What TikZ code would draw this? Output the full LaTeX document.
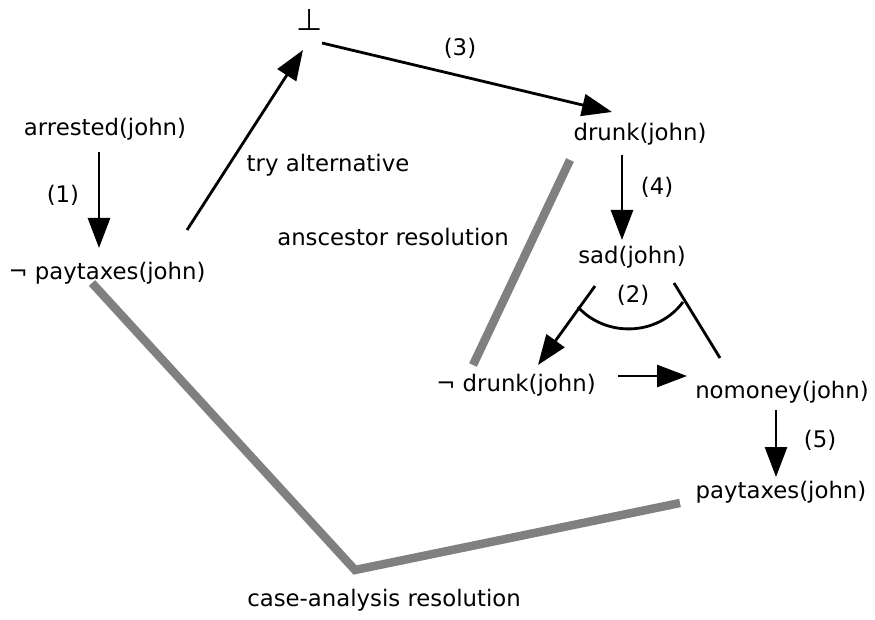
\documentclass[tikz,border=0pt]{standalone}
\usepackage{fontspec}
\setmainfont{DejaVu Sans}
\usetikzlibrary{arrows.meta,calc}
\begin{document}
\begin{tikzpicture}[x=1pt,y=-1pt,
  every node/.style={font=\fontsize{22.8}{27}\selectfont, inner sep=0pt},
  arr/.style={line width=2.8pt, -{Triangle[length=30pt,width=22pt]}},
  plain/.style={line width=2.8pt},
  grayline/.style={line width=8.5pt, draw={rgb,255:red,128;green,128;blue,128}, line join=miter}]
\useasboundingbox (0,0) rectangle (875,620);
\node[font=\fontsize{30}{34}\selectfont] (bot) at (310,20) {⊥};
\node (arrested) at (105,129) {arrested(john)};
\node (npay) at (107,273) {¬ paytaxes(john)};
\node (drunk) at (640,134) {drunk(john)};
\node (sad) at (632,257) {sad(john)};
\node (ndrunk) at (516,385) {¬ drunk(john)};
\node (nomoney) at (782,392) {nomoney(john)};
\node (pay) at (781,492) {paytaxes(john)};
\node (ltry) at (328,165) {try alternative};
\node (lanc) at (393,237) {anscestor resolution};
\node (lcase) at (384,600) {case-analysis resolution};
\node (l1) at (63,195) {(1)};
\node (l3) at (460,48) {(3)};
\node (l4) at (657,187) {(4)};
\node (l2) at (633,295) {(2)};
\node (l5) at (820,440) {(5)};
% arrows
\draw[arr] ($(arrested)+(-6,23)$) -- ($(npay)+(-8,-25)$);
\draw[arr] ($(npay)+(80,-43)$) -- ($(bot)+(-7,30)$);
\draw[arr] ($(bot)+(12,23)$) -- ($(drunk)+(-28,-22)$);
\draw[arr] ($(drunk)+(-18,21)$) -- ($(sad)+(-10,-17)$);
\draw[arr] ($(sad)+(-37,29)$) -- ($(ndrunk)+(22,-20)$);
\draw[plain] ($(sad)+(42,26)$) -- ($(nomoney)+(-62,-34)$);
\draw[plain] ($(sad)+(-54,50)$) .. controls ($(sad)+(-27,80)$) and ($(sad)+(25,80)$) .. ($(sad)+(51,45)$);
\draw[arr] ($(ndrunk)+(102,-9)$) -- ($(nomoney)+(-95,-16)$);
\draw[arr] ($(nomoney)+(-6,18)$) -- ($(pay)+(-5,-15)$);
% gray resolution lines
\coordinate (corner) at (355,570);
\draw[grayline] ($(drunk)+(-70,26)$) -- ($(ndrunk)+(-43,-20)$);
\draw[grayline] ($(npay)+(-15,10)$) -- (corner) -- ($(pay)+(-101,11)$);
\end{tikzpicture}
\end{document}
